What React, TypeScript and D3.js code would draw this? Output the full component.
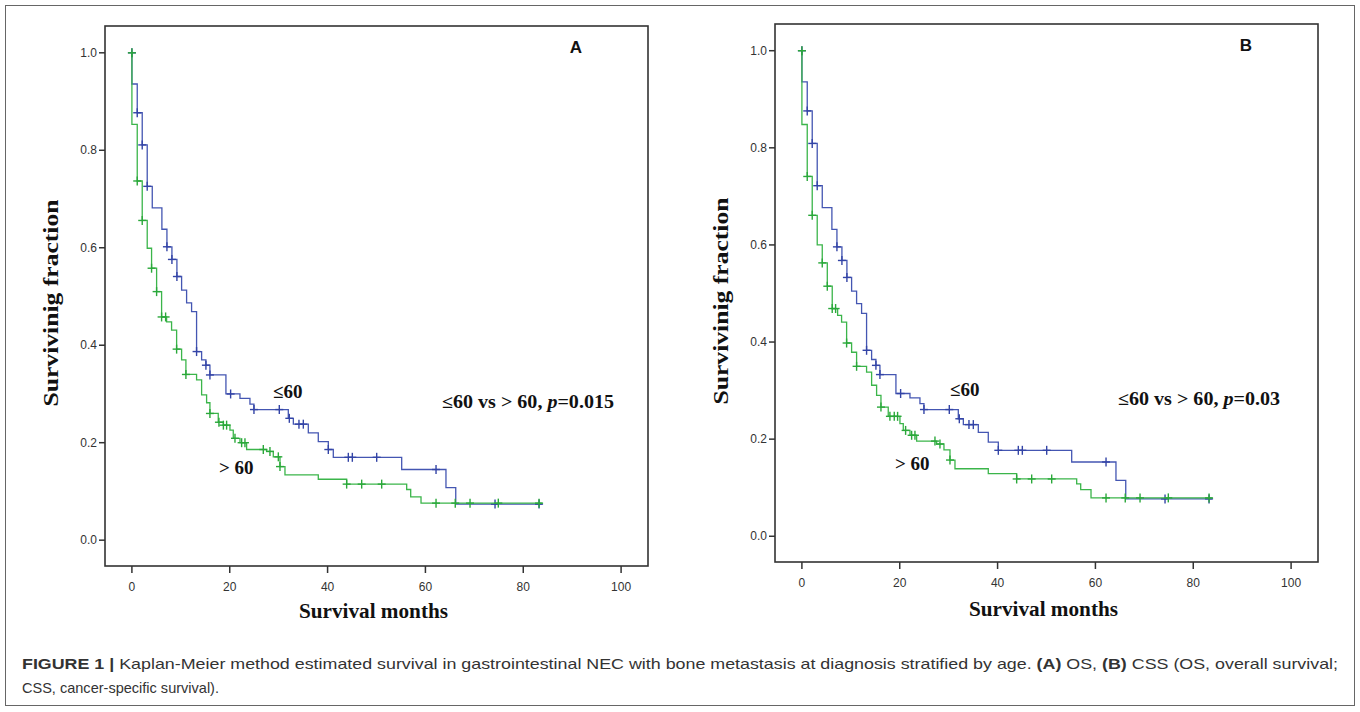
import React from 'react';
import * as d3 from 'd3';

// ---------- data ----------
const yTicks = [0, 0.2, 0.4, 0.6, 0.8, 1.0];
const xTicks = [0, 20, 40, 60, 80, 100];
const followUpEnd = 83.8;

// Panel A – OS, age <= 60
const osLe60Times = [0, 1.09, 2.11, 3.13, 4.16, 6.13, 7.16, 8.18, 9.2, 10.16, 11.18, 12.2, 13.22, 14.25, 15.13, 15.95, 19.22, 22.09, 24.13, 24.95, 31.97, 33.0, 36.06, 38.1, 40.15, 41.17, 55.15, 64.2, 66.2];
const osLe60Surv = [0.936, 0.877, 0.811, 0.726, 0.682, 0.638, 0.602, 0.576, 0.541, 0.513, 0.487, 0.469, 0.387, 0.37, 0.359, 0.339, 0.3, 0.291, 0.279, 0.268, 0.25, 0.238, 0.22, 0.202, 0.186, 0.17, 0.145, 0.108, 0.074];
const osLe60Censor = [0, 1.09, 2.11, 3.13, 7.16, 8.18, 9.2, 13.22, 15.13, 15.95, 20.18, 24.95, 30.13, 32.18, 34.15, 35.04, 40.15, 44.24, 45.06, 50.04, 62.17, 74.23, 83.23];

// Panel A – OS, age > 60
const osGt60Times = [0, 1.09, 2.11, 3.13, 4.02, 5.05, 6.07, 7.09, 8.11, 9.14, 10.16, 11.04, 13.22, 14.25, 15.27, 15.95, 17.65, 18.7, 20.04, 20.72, 22.09, 23.45, 27.54, 28.9, 30.27, 31.29, 38.1, 43.9, 56.17, 56.99, 59.1];
const osGt60Surv = [0.853, 0.737, 0.656, 0.599, 0.558, 0.51, 0.458, 0.448, 0.431, 0.392, 0.37, 0.34, 0.329, 0.298, 0.282, 0.26, 0.242, 0.236, 0.226, 0.209, 0.2, 0.186, 0.182, 0.171, 0.151, 0.134, 0.125, 0.115, 0.104, 0.089, 0.076];
const osGt60Censor = [0, 1.09, 2.11, 4.02, 5.05, 6.07, 6.89, 9.14, 11.04, 15.95, 17.79, 18.7, 19.36, 21.07, 22.43, 23.11, 26.86, 28.22, 29.93, 30.27, 43.9, 46.97, 51.06, 62.17, 66.1, 69.12, 74.9, 83.23];

// Panel B – CSS, age <= 60
const cssLe60Times = [0, 1.09, 2.11, 3.13, 4.16, 6.13, 7.16, 8.18, 9.2, 10.16, 11.18, 12.2, 13.22, 14.25, 15.13, 15.95, 19.22, 22.09, 24.13, 24.95, 31.97, 33.0, 36.06, 38.1, 40.15, 55.15, 64.2, 66.2];
const cssLe60Surv = [0.936, 0.876, 0.809, 0.722, 0.677, 0.632, 0.596, 0.568, 0.533, 0.505, 0.479, 0.459, 0.383, 0.364, 0.352, 0.333, 0.294, 0.285, 0.273, 0.261, 0.242, 0.23, 0.214, 0.194, 0.177, 0.153, 0.115, 0.077];
const cssLe60Censor = [0, 1.09, 2.11, 3.13, 7.16, 8.18, 9.2, 13.22, 15.13, 15.95, 20.18, 24.95, 30.13, 32.18, 34.15, 35.04, 40.15, 44.24, 45.06, 50.04, 62.17, 74.23, 83.23];

// Panel B – CSS, age > 60
const cssGt60Times = [0, 1.09, 2.11, 3.13, 4.16, 5.19, 6.2, 7.3, 8.11, 9.14, 10.16, 11.18, 13.22, 14.25, 15.27, 16.16, 17.65, 20.04, 20.72, 22.09, 23.45, 27.54, 29.04, 30.27, 31.29, 38.1, 43.9, 56.17, 56.99, 59.1];
const cssGt60Surv = [0.848, 0.741, 0.661, 0.6, 0.563, 0.515, 0.469, 0.455, 0.441, 0.398, 0.379, 0.35, 0.338, 0.311, 0.29, 0.266, 0.247, 0.232, 0.218, 0.208, 0.196, 0.19, 0.178, 0.157, 0.139, 0.129, 0.118, 0.108, 0.096, 0.079];
const cssGt60Censor = [0, 1.09, 2.11, 4.16, 5.19, 6.2, 6.89, 9.14, 11.18, 16.16, 17.99, 18.88, 19.56, 21.2, 22.43, 23.11, 27.2, 28.22, 30.27, 43.9, 46.97, 51.06, 62.17, 66.1, 69.12, 74.9, 83.23];

const BLUE = '#4456b2';
const BLUE_MARK = '#3344a6';
const GREEN = '#3bb54a';
const GREEN_MARK = '#2aa83a';
const SERIF = '"Liberation Serif", "Times New Roman", serif';
const SANS = '"Liberation Sans", Arial, sans-serif';

type Series = { times: number[]; surv: number[]; censor: number[]; color: string; mark: string };

const panels = [
  {
    letter: 'A', x0: 105, x1: 648, y0: 26, y1: 566,
    series: [
      { times: osLe60Times, surv: osLe60Surv, censor: osLe60Censor, color: BLUE, mark: BLUE_MARK },
      { times: osGt60Times, surv: osGt60Surv, censor: osGt60Censor, color: GREEN, mark: GREEN_MARK },
    ] as Series[],
    pText: '0.015', pX: 442, pY: 408, pLen: 172,
    le60: [273, 398], gt60: [219, 474],
    yLabelX: 58, yLabelY: 303, xLabelY: 618,
  },
  {
    letter: 'B', x0: 775, x1: 1318, y0: 24, y1: 562,
    series: [
      { times: cssLe60Times, surv: cssLe60Surv, censor: cssLe60Censor, color: BLUE, mark: BLUE_MARK },
      { times: cssGt60Times, surv: cssGt60Surv, censor: cssGt60Censor, color: GREEN, mark: GREEN_MARK },
    ] as Series[],
    pText: '0.03', pX: 1118, pY: 405, pLen: 162,
    le60: [950, 396], gt60: [895, 470],
    yLabelX: 728, yLabelY: 301, xLabelY: 616,
  },
];

function survAt(s: Series, t: number) {
  if (t <= 0) return 1;
  const i = d3.bisectRight(s.times, t);
  return i === 0 ? 1 : s.surv[i - 1];
}

function Panel({ p }: { p: (typeof panels)[number] }) {
  const x = d3.scaleLinear().domain([-5.5, 105.5]).range([p.x0, p.x1]);
  const y = d3.scaleLinear().domain([-0.053, 1.055]).range([p.y1, p.y0]);
  const line = d3
    .line<[number, number]>()
    .x((d) => x(d[0]))
    .y((d) => y(d[1]))
    .curve(d3.curveStepAfter);
  const cx = (p.x0 + p.x1) / 2;
  return (
    <g>
      {p.series.map((s, k) => {
        const pts: [number, number][] = [[0, 1], ...s.times.map((t, i) => [t, s.surv[i]] as [number, number]), [followUpEnd, s.surv[s.surv.length - 1]]];
        return (
          <g key={k}>
            <path d={line(pts) || ''} fill="none" stroke={s.color} strokeWidth={1.3} />
            {s.censor.map((c, j) => {
              const px = x(c);
              const py = y(survAt(s, c));
              return (
                <g key={j} stroke={s.mark} strokeWidth={1.4}>
                  <line x1={px} x2={px} y1={py - 4.5} y2={py + 4.5} />
                  <line x1={px - 4} x2={px + 4} y1={py} y2={py} />
                </g>
              );
            })}
          </g>
        );
      })}
      <rect x={p.x0} y={p.y0} width={p.x1 - p.x0} height={p.y1 - p.y0} fill="none" stroke="#333" strokeWidth={1.6} />
      {yTicks.map((t) => (
        <g key={t}>
          <line x1={p.x0 - 6} x2={p.x0} y1={y(t)} y2={y(t)} stroke="#333" strokeWidth={1.5} />
          <text x={p.x0 - 8} y={y(t) + 4} fontFamily={SANS} fontSize={12} fill="#333" textAnchor="end">
            {d3.format('.1f')(t)}
          </text>
        </g>
      ))}
      {xTicks.map((t) => (
        <g key={t}>
          <line x1={x(t)} x2={x(t)} y1={p.y1} y2={p.y1 + 7} stroke="#333" strokeWidth={1.5} />
          <text x={x(t)} y={p.y1 + 25} fontFamily={SANS} fontSize={12} fill="#333" textAnchor="middle">
            {t}
          </text>
        </g>
      ))}
      <text
        x={p.yLabelX}
        y={p.yLabelY}
        transform={`rotate(-90 ${p.yLabelX} ${p.yLabelY})`}
        fontFamily={SERIF}
        fontWeight="bold"
        fontSize={22}
        textAnchor="middle"
        textLength={207}
        lengthAdjust="spacingAndGlyphs"
        fill="#111"
      >
        Survivinig fraction
      </text>
      <text x={cx - 3} y={p.xLabelY} fontFamily={SERIF} fontWeight="bold" fontSize={20} textAnchor="middle" textLength={149} lengthAdjust="spacingAndGlyphs" fill="#111">
        Survival months
      </text>
      <text x={p.x1 - 72} y={p.y0 + 27} fontFamily={SANS} fontWeight="bold" fontSize={17} textAnchor="middle" fill="#111">
        {p.letter}
      </text>
      <text x={p.le60[0]} y={p.le60[1]} fontFamily={SERIF} fontWeight="bold" fontSize={19} fill="#111">
        ≤60
      </text>
      <text x={p.gt60[0]} y={p.gt60[1]} fontFamily={SERIF} fontWeight="bold" fontSize={19} fill="#111">
        {'> 60'}
      </text>
      <text x={p.pX} y={p.pY} fontFamily={SERIF} fontWeight="bold" fontSize={18} fill="#111" textLength={p.pLen} lengthAdjust="spacingAndGlyphs">
        <tspan>{'≤60 vs  > 60, '}</tspan>
        <tspan fontStyle="italic">p</tspan>
        <tspan>{'=' + p.pText}</tspan>
      </text>
    </g>
  );
}

export default function App() {
  return (
    <div style={{ position: 'absolute', left: 0, top: 0 }}>
      <svg width={1360} height={712} viewBox="0 0 1360 712" style={{ display: 'block', background: '#fff' }}>
        <rect x={0} y={0} width={1360} height={712} fill="#fff" />
        <rect x={5.5} y={5.5} width={1349} height={700} fill="none" stroke="#666" strokeWidth={1} />
        {panels.map((p) => (
          <Panel key={p.letter} p={p} />
        ))}
        <text x={22} y={669} fontFamily={SANS} fontSize={15} fill="#333" textLength={1316} lengthAdjust="spacingAndGlyphs">
          <tspan fontWeight="bold">FIGURE 1 | </tspan>
          <tspan>Kaplan-Meier method estimated survival in gastrointestinal NEC with bone metastasis at diagnosis stratified by age. </tspan>
          <tspan fontWeight="bold">(A)</tspan>
          <tspan> OS, </tspan>
          <tspan fontWeight="bold">(B)</tspan>
          <tspan> CSS (OS, overall survival;</tspan>
        </text>
        <text x={22} y={693} fontFamily={SANS} fontSize={15} fill="#333" textLength={197} lengthAdjust="spacingAndGlyphs">
          CSS, cancer-specific survival).
        </text>
      </svg>
    </div>
  );
}
